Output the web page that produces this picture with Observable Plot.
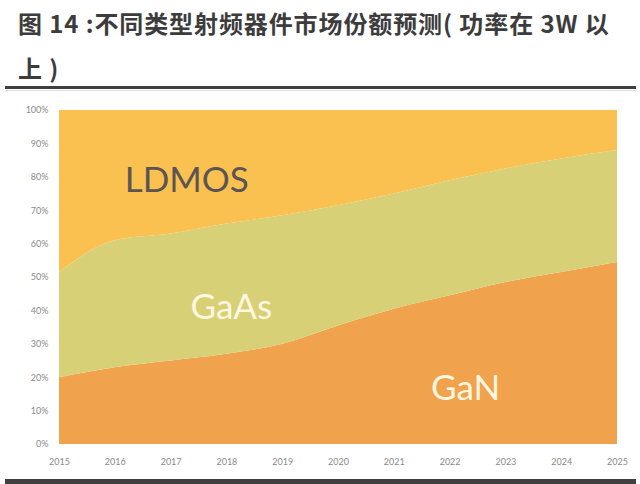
<!DOCTYPE html>
<html>
<head>
<meta charset="utf-8">
<script src="https://cdn.jsdelivr.net/npm/d3@7"></script>
<script src="https://cdn.jsdelivr.net/npm/@observablehq/plot@0.6"></script>
<style>
  html, body { margin: 0; padding: 0; background: #fff; }
  #wrap { position: relative; width: 640px; height: 484px; overflow: hidden; }
  #title { position: absolute; left: 18px; top: 0px; font-family: "Noto Sans CJK SC", sans-serif; font-weight: 700; font-size: 24px; line-height: 45px; color: #3c3c3c; white-space: nowrap; letter-spacing: 0.9px; }
  #rule1 { position: absolute; left: 5px; width: 631px; top: 86px; height: 3px; background: #3f3f3f; }
  #rule1b { position: absolute; left: 5px; width: 631px; top: 90px; height: 1px; background: #dcdcdc; }
  #rule2 { position: absolute; left: 5px; width: 631px; top: 479px; height: 5px; background: #3f3f3f; }
  #chart { position: absolute; left: 0; top: 92px; }
</style>
</head>
<body>
<div id="wrap">
  <div id="title">图 14 :不同类型射频器件市场份额预测( 功率在 3W 以<br>上 )</div>
  <div id="rule1"></div>
  <div id="rule1b"></div>
  <div id="chart"></div>
  <div id="rule2"></div>
</div>
<script>
const years = [2015, 2016, 2017, 2018, 2019, 2020, 2021, 2022, 2023, 2024, 2025];
const seriesNames = ["GaN", "GaAs", "LDMOS"];
const ganShare   = [20, 23, 25, 27, 30, 35.5, 40.5, 44.5, 48.5, 51.5, 54.5];
const gaasShare  = [31.5, 38, 38, 39, 38.5, 36, 34.5, 34.5, 34, 34, 33.5];
const ldmosShare = [48.5, 39, 37, 34, 31.5, 28.5, 25, 21, 17.5, 14.5, 12];
const seriesColors = ["#F1A24D", "#D7D077", "#FAC050"];
const yTicks = [0, 10, 20, 30, 40, 50, 60, 70, 80, 90, 100];

const labelNames = ["LDMOS", "GaAs", "GaN"];
const labelYears = [2017.28, 2018.08, 2022.28];
const labelValues = [79, 41, 16.7];
const labelColors = ["#5a5552", "#FFF7E0", "#FFF7E0"];

const shares = [ganShare, gaasShare, ldmosShare];
const rows = [];
years.forEach((yr, i) => {
  seriesNames.forEach((s, j) => rows.push({year: yr, series: s, share: shares[j][i]}));
});
const labels = labelNames.map((t, i) => ({text: t, year: labelYears[i], value: labelValues[i], color: labelColors[i]}));

const chart = Plot.plot({
  width: 640,
  height: 388,
  marginTop: 18,
  marginBottom: 36,
  marginLeft: 59,
  marginRight: 23,
  style: { fontFamily: "Lato, 'DejaVu Sans', sans-serif", background: "transparent" },
  x: { domain: [2015, 2025], ticks: years, tickFormat: d => String(d), tickSize: 0, tickPadding: 13, label: null },
  y: { domain: [0, 100], ticks: yTicks, tickFormat: d => d + "%", tickSize: 0, tickPadding: 11, label: null },
  color: { domain: seriesNames, range: seriesColors },
  marks: [
    Plot.areaY(rows, { x: "year", y: "share", fill: "series", order: seriesNames, curve: "monotone-x" }),
    Plot.axisX({ ticks: years, tickFormat: d => String(d), tickSize: 0, tickPadding: 14, fontSize: 9, color: "#8a8a8a", label: null }),
    Plot.axisY({ ticks: yTicks, tickFormat: d => d + "%", tickSize: 0, tickPadding: 11, fontSize: 9, color: "#8a8a8a", label: null }),
    Plot.text(labels, { x: "year", y: "value", text: "text", fill: "color", fontSize: 35, fontFamily: "Lato, sans-serif", fontWeight: 400 })
  ]
});
document.getElementById("chart").appendChild(chart);
</script>
</body>
</html>
